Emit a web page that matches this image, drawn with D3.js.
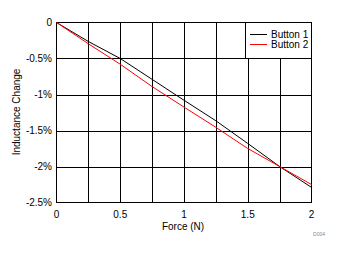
<!DOCTYPE html>
<html>
<head>
<meta charset="utf-8">
<script src="https://cdn.jsdelivr.net/npm/d3@7"></script>
<style>
  body { margin: 0; background: #fff; }
  svg text { font-family: "Liberation Sans", Arial, sans-serif; fill: #000; }
</style>
</head>
<body>
<div id="chart"></div>
<script>
// force in N
const force = [0, 0.25, 0.5, 0.75, 1.0, 1.25, 1.5, 1.75, 2.0];
// inductance change in %
const button1 = [0, -0.264, -0.50, -0.79, -1.08, -1.365, -1.68, -2.0, -2.29];
const button2 = [0, -0.296, -0.58, -0.89, -1.175, -1.456, -1.75, -2.0, -2.25];

const xTicks = [0, 0.5, 1, 1.5, 2];
const xGrid = [0.25, 0.5, 0.75, 1, 1.25, 1.5, 1.75];
const yTicks = [0, -0.5, -1, -1.5, -2, -2.5];
const seriesNames = ["Button 1", "Button 2"];
const seriesColors = ["#000000", "#ff0000"];

const width = 340, height = 254;
const plotL = 56.5, plotR = 311.5, plotT = 22.5, plotB = 202.5;

const svg = d3.select("#chart").append("svg")
    .attr("width", width)
    .attr("height", height);

const x = d3.scaleLinear().domain([0, 2]).range([plotL, plotR]);
const y = d3.scaleLinear().domain([-2.5, 0]).range([plotB, plotT]);

// grid
svg.append("g").selectAll("line")
    .data(xGrid).enter().append("line")
    .attr("x1", d => Math.round(x(d)) + 0.5).attr("x2", d => Math.round(x(d)) + 0.5)
    .attr("y1", plotT).attr("y2", plotB)
    .attr("stroke", "#000").attr("stroke-width", 1);

svg.append("g").selectAll("line")
    .data(yTicks.slice(1, -1)).enter().append("line")
    .attr("x1", plotL).attr("x2", plotR)
    .attr("y1", d => Math.round(y(d)) + 0.5).attr("y2", d => Math.round(y(d)) + 0.5)
    .attr("stroke", "#000").attr("stroke-width", 1);

// plot border
svg.append("rect")
    .attr("x", plotL).attr("y", plotT)
    .attr("width", plotR - plotL).attr("height", plotB - plotT)
    .attr("fill", "none").attr("stroke", "#000");

// tick labels
svg.append("g").selectAll("text")
    .data(yTicks).enter().append("text")
    .attr("x", 52).attr("y", d => y(d) + 3.5)
    .attr("text-anchor", "end")
    .style("font-size", "10px")
    .text(d => d === 0 ? "0" : d + "%");

svg.append("g").selectAll("text")
    .data(xTicks).enter().append("text")
    .attr("x", d => x(d)).attr("y", 218)
    .attr("text-anchor", "middle")
    .style("font-size", "10px")
    .text(d => d);

// axis titles
svg.append("text")
    .attr("x", 183).attr("y", 229.5)
    .attr("text-anchor", "middle")
    .style("font-size", "10px")
    .text("Force (N)");

svg.append("text")
    .attr("transform", "translate(19.5,112) rotate(-90)")
    .attr("text-anchor", "middle")
    .style("font-size", "10px")
    .text("Inductance Change");

svg.append("text")
    .attr("x", 325).attr("y", 236)
    .attr("text-anchor", "end")
    .style("font-size", "5px")
    .style("fill", "#888")
    .text("D004");

// lines
const line = d3.line()
    .x((d, i) => x(force[i]))
    .y(d => y(d));

[button1, button2].forEach((s, i) => {
    svg.append("path")
        .datum(s)
        .attr("d", line)
        .attr("fill", "none")
        .attr("stroke", seriesColors[i])
        .attr("stroke-width", 1);
});

// legend
const lg = svg.append("g");
lg.append("rect")
    .attr("x", 245.5).attr("y", plotT)
    .attr("width", plotR - 245.5).attr("height", 36)
    .attr("fill", "#fff").attr("stroke", "#000");

seriesNames.forEach((name, i) => {
    const ly = 34.5 + i * 10;
    lg.append("line")
        .attr("x1", 250).attr("x2", 267)
        .attr("y1", ly).attr("y2", ly)
        .attr("stroke", seriesColors[i]);
    lg.append("text")
        .attr("x", 271).attr("y", ly + 3.5)
        .style("font-size", "10px")
        .text(name);
});
</script>
</body>
</html>
